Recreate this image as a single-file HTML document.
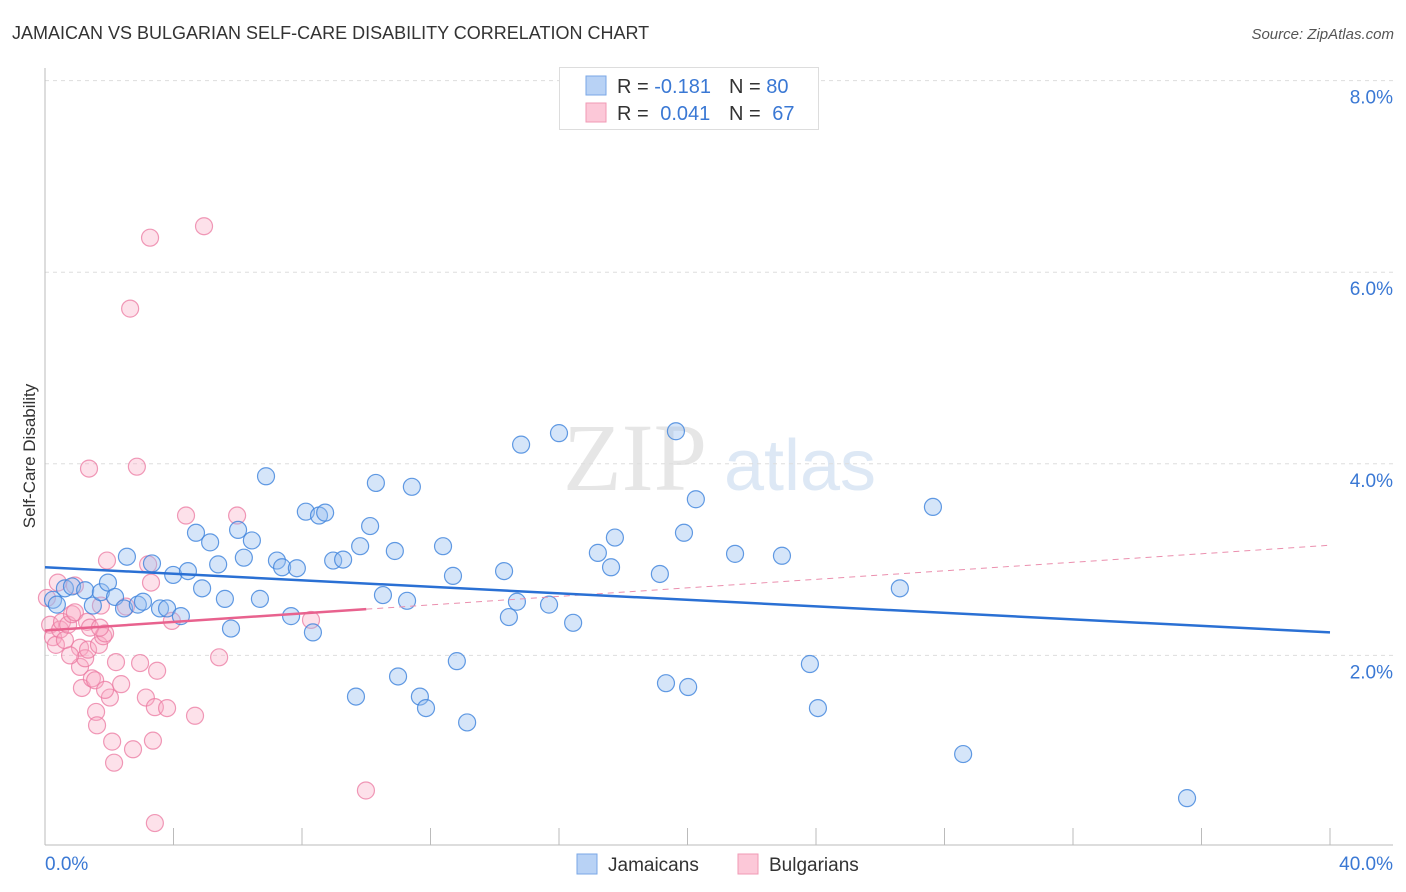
<!DOCTYPE html>
<html><head><meta charset="utf-8"><style>
body{margin:0;background:#fff;font-family:"Liberation Sans",sans-serif;}
svg{display:block}
</style></head><body>
<svg id="chart" width="1406" height="892" xmlns="http://www.w3.org/2000/svg">
<text x="12" y="39" font-size="18" fill="#333">JAMAICAN VS BULGARIAN SELF-CARE DISABILITY CORRELATION CHART</text>
<text x="1394" y="39" font-size="15" fill="#555" font-style="italic" text-anchor="end">Source: ZipAtlas.com</text>
<text x="35" y="456" font-size="17" fill="#333" text-anchor="middle" transform="rotate(-90 35 456)">Self-Care Disability</text>
<g>
<text x="635" y="490" font-size="96" fill="#e6e6e6" font-family="Liberation Serif, serif" text-anchor="middle">ZIP</text>
<text x="800" y="490" font-size="72" fill="#dde8f5" text-anchor="middle">atlas</text>
</g>
<g id="grid"></g><g id="axes"></g><g id="marks"></g>
<g>
<rect x="559.5" y="67.5" width="259" height="62" fill="#fff" stroke="#ddd"/>
<rect x="586" y="76" width="20" height="19" fill="#b8d2f5" stroke="#7aa7e6"/>
<rect x="586" y="103" width="20" height="19" fill="#fcc8d8" stroke="#f09ab5"/>
<text x="617" y="93" font-size="20" fill="#333">R = <tspan fill="#3a78d4">-0.181</tspan></text>
<text x="729" y="93" font-size="20" fill="#333">N = <tspan fill="#3a78d4">80</tspan></text>
<text x="617" y="120" font-size="20" fill="#333">R = <tspan fill="#3a78d4" dx="6">0.041</tspan></text>
<text x="729" y="120" font-size="20" fill="#333">N = <tspan fill="#3a78d4" dx="6">67</tspan></text>
</g>
<g>
<rect x="577" y="854" width="20" height="20" fill="#b8d2f5" stroke="#7aa7e6"/>
<text x="608" y="871" font-size="19" fill="#333">Jamaicans</text>
<rect x="738" y="854" width="20" height="20" fill="#fcc8d8" stroke="#f09ab5"/>
<text x="769" y="871" font-size="19" fill="#333">Bulgarians</text>
</g>
</svg>
<script>
const xTicks=[0,5,10,15,20,25,30,35,40];
const yTicks=[2,4,6,8];
const yTickLabels=["2.0%","4.0%","6.0%","8.0%"];
const xEndLabels=["0.0%","40.0%"];
const jamX=[0.25,0.37,0.62,0.84,1.25,1.49,1.74,1.96,2.18,2.46,2.55,2.89,3.05,3.33,3.58,3.80,3.99,4.23,4.45,4.70,4.89,5.14,5.39,5.60,5.79,6.01,6.19,6.44,6.69,6.88,7.22,7.38,7.66,7.84,8.12,8.34,8.53,8.72,8.97,9.28,9.68,9.81,10.12,10.30,10.52,10.89,10.99,11.27,11.42,11.67,11.86,12.39,12.70,12.82,13.14,14.29,14.44,14.69,14.82,15.69,16.00,16.44,17.21,17.62,17.74,19.14,19.33,19.64,19.89,20.02,20.26,21.48,22.94,23.81,24.06,26.61,27.64,28.58,35.55];
const jamY=[2.58,2.53,2.70,2.72,2.68,2.52,2.66,2.76,2.61,2.49,3.03,2.53,2.56,2.96,2.49,2.49,2.84,2.41,2.88,3.28,2.70,3.18,2.95,2.59,2.28,3.31,3.02,3.20,2.59,3.87,2.99,2.92,2.41,2.91,3.50,2.24,3.46,3.49,2.99,3.00,1.57,3.14,3.35,3.80,2.63,3.09,1.78,2.57,3.76,1.57,1.45,3.14,2.83,1.94,1.30,2.88,2.40,2.56,4.20,2.53,4.32,2.34,3.07,2.92,3.23,2.85,1.71,4.34,3.28,1.67,3.63,3.06,3.04,1.91,1.45,2.70,3.55,0.97,0.51];
const bulX=[0.06,0.16,0.25,0.34,0.47,0.53,0.62,0.72,0.84,0.93,0.93,1.09,1.09,1.15,1.25,1.31,1.34,1.37,1.46,1.56,1.59,1.62,1.68,1.74,1.81,1.87,1.93,2.02,2.09,2.15,2.21,2.37,2.52,2.65,2.74,2.86,2.96,3.14,3.21,3.27,3.30,3.36,3.42,3.42,3.49,3.80,3.95,4.39,4.67,4.95,5.42,5.98,8.28,9.99,0.40,1.40,1.71,0.78,1.87];
const bulY=[2.60,2.32,2.19,2.11,2.27,2.35,2.16,2.32,2.43,2.73,2.45,1.88,2.08,1.66,1.97,2.35,2.06,3.95,1.76,1.74,1.41,1.27,2.11,2.52,2.20,2.23,2.99,1.56,1.10,0.88,1.93,1.70,2.51,5.62,1.02,3.97,1.92,1.56,2.95,6.36,2.76,1.11,1.46,0.25,1.84,1.45,2.36,3.46,1.37,6.48,1.98,3.46,2.37,0.59,2.76,2.29,2.29,2.00,1.64];
const jamTrend=[2.92,2.24];   // y at x=0 and x=40
const bulTrend=[2.26,3.15];   // y at x=0 and x=40
const bulSolidEnd=10;

const NS="http://www.w3.org/2000/svg";
const X0=45,X1=1330,Y0=847,PX_PER_PCT=95.8;
const sx=v=>X0+(X1-X0)*v/40;
const sy=v=>Y0-v*PX_PER_PCT;
function mk(tag,attrs,parent){const e=document.createElementNS(NS,tag);for(const k in attrs)e.setAttribute(k,attrs[k]);parent.appendChild(e);return e;}
const grid=document.getElementById('grid'),axes=document.getElementById('axes'),marks=document.getElementById('marks');
yTicks.forEach((t,i)=>{
  const l=mk('line',{x1:X0,x2:1393,y1:sy(t),y2:sy(t),stroke:'#ddd','stroke-dasharray':'4,4'},grid);
  
  
  const tx=mk('text',{x:1393,y:sy(t)+23,'font-size':19,fill:'#3a78d4','text-anchor':'end'},axes);
  tx.textContent=yTickLabels[i];
  
  
});
const ya=mk('line',{x1:X0,x2:X0,y1:68,y2:845,stroke:'#bbb'},axes);


const xa=mk('line',{x1:X0,x2:1393,y1:845,y2:845,stroke:'#bbb'},axes);


for(let t=0;t<=40;t+=4){
  const tk=mk('line',{x1:sx(t),x2:sx(t),y1:828,y2:845,stroke:'#bbb'},axes);
  
  
}
[[0,'start',X0],[40,'end',1393]].forEach((d,i)=>{
  const tx=mk('text',{x:d[2],y:870,'font-size':19,fill:'#3a78d4','text-anchor':d[1]},axes);
  tx.textContent=xEndLabels[i];
  
  
});
function pts(xs,ys,fill,stroke,name){
  xs.forEach((x,i)=>{
    const c=mk('circle',{cx:sx(x),cy:sy(ys[i]),r:8.5,fill:fill,stroke:stroke,'stroke-width':1.2},marks);
    
    
  });
}
pts(bulX,bulY,'rgba(248,170,195,0.35)','rgba(235,120,160,0.75)','bulgarian-point');
pts(jamX,jamY,'rgba(150,190,240,0.4)','rgba(60,130,220,0.8)','jamaican-point');
const ty=(tr,x)=>tr[0]+(tr[1]-tr[0])*x/40;
const bd=mk('line',{x1:sx(bulSolidEnd),y1:sy(ty(bulTrend,bulSolidEnd)),x2:sx(40),y2:sy(ty(bulTrend,40)),stroke:'#eb8fae','stroke-width':1,'stroke-dasharray':'6,5'},marks);


const bs=mk('line',{x1:sx(0),y1:sy(ty(bulTrend,0)),x2:sx(bulSolidEnd),y2:sy(ty(bulTrend,bulSolidEnd)),stroke:'#e8628e','stroke-width':2.5},marks);


const jt=mk('line',{x1:sx(0),y1:sy(jamTrend[0]),x2:sx(40),y2:sy(jamTrend[1]),stroke:'#2a70d4','stroke-width':2.5},marks);


</script>
</body></html>
